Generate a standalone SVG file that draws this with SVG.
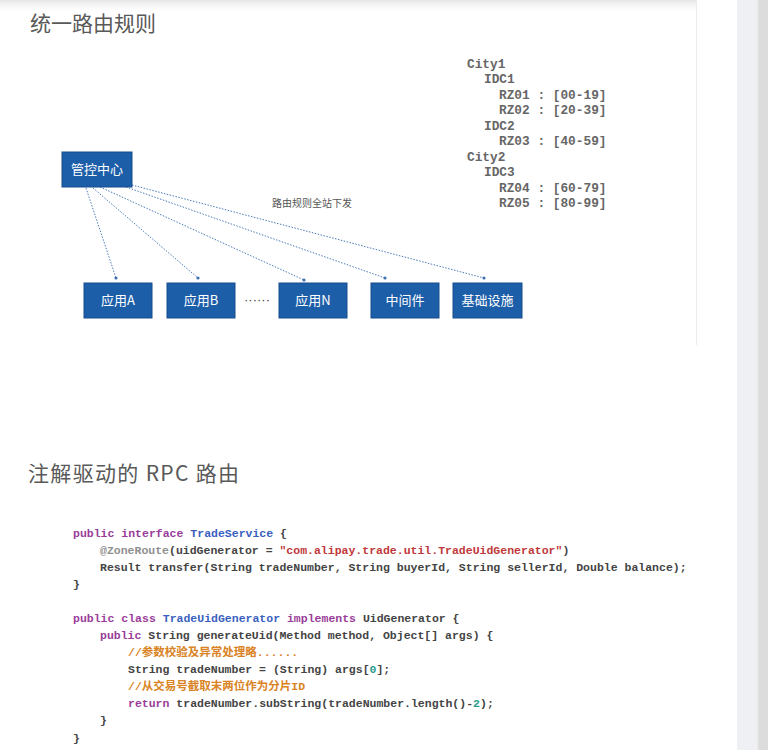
<svg xmlns="http://www.w3.org/2000/svg" width="768" height="750" viewBox="0 0 768 750">
<defs>
<linearGradient id="shadow" x1="0" y1="0" x2="0" y2="1">
<stop offset="0" stop-color="#e4e4e6"/>
<stop offset="1" stop-color="#ffffff" stop-opacity="0"/>
</linearGradient>
<marker id="dot" viewBox="0 0 4 4" refX="2" refY="2" markerWidth="4" markerHeight="4" markerUnits="userSpaceOnUse">
<circle cx="2" cy="2" r="1.6" fill="#3d6fb0"/>
</marker>
<style>
.title{font-family:"Noto Sans CJK SC","Noto Sans",sans-serif;font-size:21px;fill:#595959;}
.box{fill:#1d5ea9;stroke:#174d8c;stroke-width:1;}
.lbl{font-family:"Noto Sans CJK SC","Noto Sans",sans-serif;font-size:13px;fill:#fff;text-anchor:middle;}
.conn{fill:none;stroke:#4d7bb8;stroke-width:1;stroke-dasharray:1.5 1.5;marker-end:url(#dot);}
.zone{font-family:"Liberation Mono","Noto Sans CJK SC",monospace;font-size:12.8px;fill:#666;font-weight:bold;}
.code{font-family:"Liberation Mono","Noto Sans CJK SC",monospace;font-size:11.5px;fill:#444;font-weight:bold;}
.kw{fill:#9a3d9a;}
.ty{fill:#3a5fbf;}
.an{fill:#909090;}
.str{fill:#c0383a;}
.cm{fill:#d98324;}
.num{fill:#2a9d8f;}
.note{font-family:"Noto Sans CJK SC","Noto Sans",sans-serif;font-size:10px;fill:#555;}
</style>
</defs>
<rect x="0" y="0" width="768" height="750" fill="#ffffff"/>
<rect x="0" y="0" width="696" height="14" fill="url(#shadow)"/>
<line x1="696.5" y1="0" x2="696.5" y2="345" stroke="#ececec" stroke-width="1"/>
<rect x="737" y="0" width="31" height="750" fill="#eff0f3"/>
<rect x="758" y="0" width="10" height="750" fill="#dcdcdc"/>
<line x1="758" y1="0" x2="758" y2="750" stroke="#e6e6e6" stroke-width="1"/>

<text class="title" x="30" y="31">统一路由规则</text>

<g id="zones" class="zone">
<text x="467" y="68">City1</text>
<text x="484" y="83">IDC1</text>
<text x="499" y="99">RZ01 : [00-19]</text>
<text x="499" y="114">RZ02 : [20-39]</text>
<text x="484" y="130">IDC2</text>
<text x="499" y="145">RZ03 : [40-59]</text>
<text x="467" y="161">City2</text>
<text x="484" y="176">IDC3</text>
<text x="499" y="192">RZ04 : [60-79]</text>
<text x="499" y="207">RZ05 : [80-99]</text>
</g>

<g id="connectors">
<line class="conn" x1="86" y1="188" x2="116" y2="278"/>
<line class="conn" x1="93" y1="188" x2="198" y2="278"/>
<line class="conn" x1="100" y1="187" x2="304" y2="280"/>
<line class="conn" x1="126" y1="187" x2="385" y2="278"/>
<line class="conn" x1="132" y1="185" x2="484" y2="278"/>
<text class="note" x="312" y="207" text-anchor="middle">路由规则全站下发</text>
</g>

<g id="control">
<rect class="box" x="62" y="152" width="70" height="35"/>
<text class="lbl" x="97" y="174">管控中心</text>
</g>
<g id="appA">
<rect class="box" x="84" y="283" width="68" height="35"/>
<text class="lbl" x="118" y="305">应用A</text>
</g>
<g id="appB">
<rect class="box" x="167" y="283" width="68" height="35"/>
<text class="lbl" x="201" y="305">应用B</text>
</g>
<g id="ellipsis">
<text x="244" y="304" font-family="Liberation Sans, sans-serif" font-size="13" fill="#444">······</text>
</g>
<g id="appN">
<rect class="box" x="279" y="283" width="68" height="35"/>
<text class="lbl" x="313" y="305">应用N</text>
</g>
<g id="middleware">
<rect class="box" x="371" y="283" width="68" height="35"/>
<text class="lbl" x="405" y="305">中间件</text>
</g>
<g id="infra">
<rect class="box" x="453" y="283" width="69" height="35"/>
<text class="lbl" x="487.5" y="305">基础设施</text>
</g>

<text class="title" x="28" y="481" textLength="211" lengthAdjust="spacing">注解驱动的 RPC 路由</text>

<g id="code" class="code" xml:space="preserve">
<text x="73" y="537"><tspan class="kw">public interface</tspan> <tspan class="ty">TradeService</tspan> {</text>
<text x="100" y="554"><tspan class="an">@ZoneRoute</tspan>(uidGenerator = <tspan class="str">"com.alipay.trade.util.TradeUidGenerator"</tspan>)</text>
<text x="100" y="571">Result transfer(String tradeNumber, String buyerId, String sellerId, Double balance);</text>
<text x="73" y="588">}</text>
<text x="73" y="622"><tspan class="kw">public class</tspan> <tspan class="ty">TradeUidGenerator</tspan> <tspan class="kw">implements</tspan> UidGenerator {</text>
<text x="100" y="639"><tspan class="kw">public</tspan> String generateUid(Method method, Object[] args) {</text>
<text x="128" y="656" class="cm">//参数校验及异常处理略......</text>
<text x="128" y="673">String tradeNumber = (String) args[<tspan class="num">0</tspan>];</text>
<text x="128" y="690" class="cm">//从交易号截取末两位作为分片ID</text>
<text x="128" y="707"><tspan class="kw">return</tspan> tradeNumber.subString(tradeNumber.length()-<tspan class="num">2</tspan>);</text>
<text x="100" y="724">}</text>
<text x="73" y="742">}</text>
</g>
</svg>
